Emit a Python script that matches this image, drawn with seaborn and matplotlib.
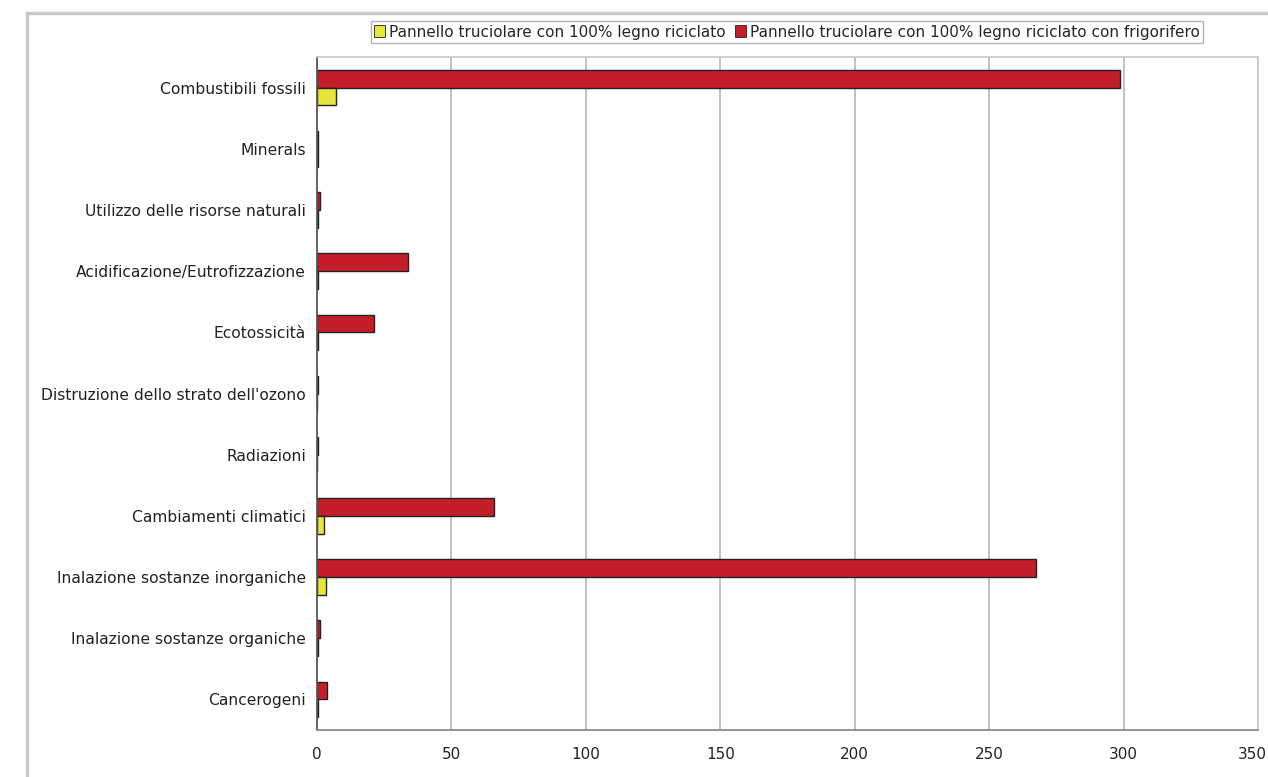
import numpy as np
import pandas as pd
import matplotlib
matplotlib.use("Agg")
import matplotlib.pyplot as plt
import matplotlib.transforms as mtransforms
import seaborn as sns
from matplotlib.patches import Rectangle, Patch

categories = [
    "Combustibili fossili",
    "Minerals",
    "Utilizzo delle risorse naturali",
    "Acidificazione/Eutrofizzazione",
    "Ecotossicità",
    "Distruzione dello strato dell'ozono",
    "Radiazioni",
    "Cambiamenti climatici",
    "Inalazione sostanze inorganiche",
    "Inalazione sostanze organiche",
    "Cancerogeni",
]
series_yellow = "Pannello truciolare con 100% legno riciclato"
series_red = "Pannello truciolare con 100% legno riciclato con frigorifero"
vals_yellow = [7.0, 0.2, 0.3, 0.5, 0.5, 0.1, 0.1, 2.6, 3.3, 0.3, 0.3]
vals_red = [298.5, 0.5, 1.2, 33.8, 21.2, 0.3, 0.3, 65.8, 267.3, 1.2, 3.6]
xticks = [0, 50, 100, 150, 200, 250, 300, 350]

df = pd.DataFrame({
    "categoria": categories * 2,
    "valore": vals_red + vals_yellow,
    "serie": [series_red] * len(categories) + [series_yellow] * len(categories),
})

sns.set_theme(style="white")
plt.rcParams["font.family"] = ["DejaVu Sans"]

fig = plt.figure(figsize=(12.68, 7.77), dpi=100)
ax = fig.add_axes([317 / 1268, 1 - 730 / 777, (1258 - 317) / 1268, (730 - 57) / 777])

palette = {series_red: "#c41e2a", series_yellow: "#e6e63a"}
sns.barplot(data=df, x="valore", y="categoria", hue="serie", order=categories,
            hue_order=[series_red, series_yellow], palette=palette, orient="h",
            width=0.58, edgecolor="#222222", linewidth=1.0, saturation=1,
            legend=False, ax=ax)

ax.set_xlim(0, 350)
ax.set_xticks(xticks)
ax.set_xticklabels([str(t) for t in xticks], fontsize=11, color="#222222")
ax.tick_params(axis="y", labelsize=11.2, labelcolor="#222222", length=0, pad=8)
ax.tick_params(axis="x", length=4, color="#777777", pad=8)
ax.set_xlabel("")
ax.set_ylabel("")
ax.grid(axis="x", color="#b0b0b0", linewidth=1.1)
ax.set_axisbelow(True)
for s in ["top", "right"]:
    ax.spines[s].set_color("#c8c8c8")
    ax.spines[s].set_linewidth(1.2)
ax.spines["left"].set_color("#555555")
ax.spines["bottom"].set_color("#888888")

# l'ultima etichetta (350) sta sul bordo: spostala un poco a sinistra
last = ax.get_xticklabels()[-1]
last.set_transform(last.get_transform() + mtransforms.ScaledTranslation(-6 / 100, 0, fig.dpi_scale_trans))

handles = [Patch(facecolor=palette[series_yellow], edgecolor="#222222", linewidth=0.6),
           Patch(facecolor=palette[series_red], edgecolor="#222222", linewidth=0.6)]
leg = fig.legend(handles, [series_yellow, series_red], ncol=2, loc="center",
                 bbox_to_anchor=(787 / 1268, 1 - 32 / 777), fontsize=11,
                 frameon=True, fancybox=False, handlelength=0.7, handleheight=0.8,
                 handletextpad=0.3, columnspacing=0.6, borderpad=0.2)
leg.get_frame().set_edgecolor("#a0a0a0")
leg.get_frame().set_linewidth(1.0)

fig.patches.append(Rectangle((27 / 1268, -0.02), 1.0, 1 - 13 / 777 + 0.02,
                             transform=fig.transFigure, fill=False,
                             edgecolor="#c8c8c8", linewidth=2.5))

fig.savefig("out.png", dpi=100)
